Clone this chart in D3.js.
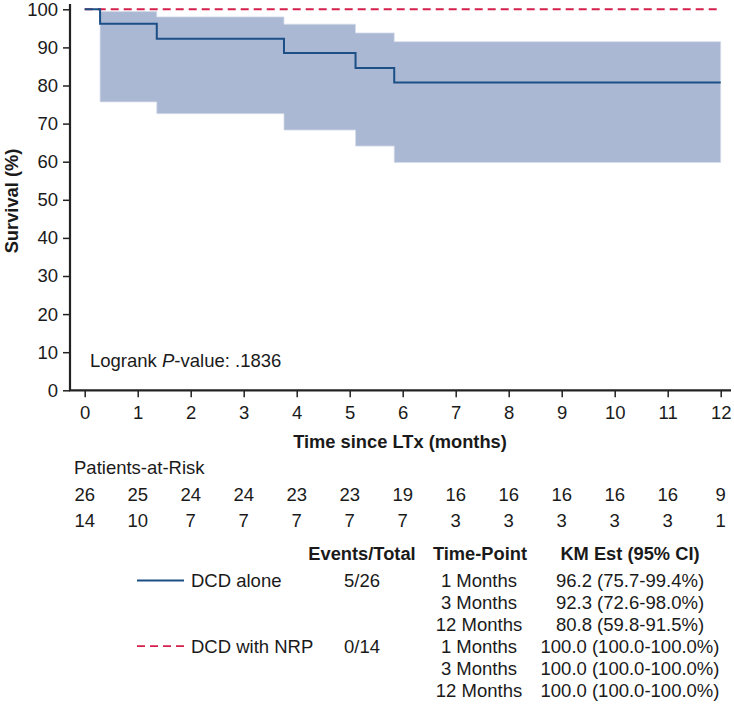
<!DOCTYPE html>
<html><head><meta charset="utf-8">
<script src="https://cdn.jsdelivr.net/npm/d3@7"></script>
<style>body{margin:0;background:#fff}svg{display:block}text{font-family:"Liberation Sans",Arial,Helvetica,sans-serif;fill:#1a1a1a}</style>
</head><body><svg id="c" width="734" height="706"></svg>
<script>
// Data
const stepTimes   = [0, 0.29, 1.36, 3.76, 5.11, 5.84, 12];
const survAlone   = [100, 96.2, 92.3, 88.5, 84.6, 80.8, 80.8];
const ciTimes     = [0.29, 1.36, 3.76, 5.11, 5.84, 12];
const ciLower     = [75.7, 72.6, 68.3, 64.1, 59.8, 59.8];
const ciUpper     = [99.4, 98.0, 96.1, 93.8, 91.5, 91.5];
const nrpTimes    = [0, 12];
const nrpSurv     = [100, 100];
const xTicks      = [0,1,2,3,4,5,6,7,8,9,10,11,12];
const yTicks      = [0,10,20,30,40,50,60,70,80,90,100];
const riskAlone   = [26,25,24,24,23,23,19,16,16,16,16,16,9];
const riskNRP     = [14,10,7,7,7,7,7,3,3,3,3,3,1];
const groups      = ["DCD alone","DCD with NRP"];
const eventsTotal = ["5/26","0/14"];
const timePoints  = ["1 Months","3 Months","12 Months"];
const kmAlone     = ["96.2 (75.7-99.4%)","92.3 (72.6-98.0%)","80.8 (59.8-91.5%)"];
const kmNRP       = ["100.0 (100.0-100.0%)","100.0 (100.0-100.0%)","100.0 (100.0-100.0%)"];

const svg = d3.select("#c");
const x = d3.scaleLinear().domain([0,12]).range([84.7,720.7]);
const y = d3.scaleLinear().domain([0,100]).range([390.3,9.3]);
const blue = "#1b4f86", red = "#d5204c", band = "#aab8d4";
const fs = 18.5, fsb = 18.3;

// CI band
const areaData = ciTimes.map((t,i)=>({t, lo:ciLower[i], hi:ciUpper[i]}));
svg.append("path").datum(areaData)
  .attr("d", d3.area().curve(d3.curveStepAfter).x(d=>x(d.t)).y0(d=>y(d.lo)).y1(d=>y(d.hi)))
  .attr("fill", band).attr("stroke","#d6dcea").attr("stroke-width",0.8);

// NRP dashed
svg.append("path").datum(nrpTimes.map((t,i)=>({t,s:nrpSurv[i]})))
  .attr("d", d3.line().x(d=>x(d.t)).y(d=>y(d.s)))
  .attr("fill","none").attr("stroke",red).attr("stroke-width",2).attr("stroke-dasharray","8,5");

// KM step line
svg.append("path").datum(stepTimes.map((t,i)=>({t,s:survAlone[i]})))
  .attr("d", d3.line().curve(d3.curveStepAfter).x(d=>x(d.t)).y(d=>y(d.s)))
  .attr("fill","none").attr("stroke",blue).attr("stroke-width",2);

// Axes
const yAx = svg.append("g").attr("transform","translate(70,0)")
  .call(d3.axisLeft(y).tickValues(yTicks).tickSize(7).tickPadding(5));
yAx.select(".domain").remove();
svg.append("line").attr("x1",70).attr("x2",70).attr("y1",4).attr("y2",391).attr("stroke","#222").attr("stroke-width",2.2);
const xAx = svg.append("g").attr("transform","translate(0,390.3)")
  .call(d3.axisBottom(x).tickValues(xTicks).tickSize(7).tickPadding(9));
xAx.select(".domain").remove();
svg.append("line").attr("x1",69).attr("x2",731).attr("y1",390.3).attr("y2",390.3).attr("stroke","#222").attr("stroke-width",2.2);
svg.selectAll(".tick line").attr("stroke","#222").attr("stroke-width",1.5);
svg.selectAll(".tick text").attr("font-size",fs).attr("font-family",'"Liberation Sans",Arial,sans-serif').attr("fill","#1a1a1a");

// Axis titles
svg.append("text").attr("transform","translate(18,201) rotate(-90)").attr("text-anchor","middle")
  .attr("font-size",fsb).attr("font-weight","bold").text("Survival (%)");
svg.append("text").attr("x",400).attr("y",447.5).attr("text-anchor","middle")
  .attr("font-size",fsb).attr("font-weight","bold").text("Time since LTx (months)");

// Logrank
const lr = svg.append("text").attr("x",90).attr("y",367).attr("font-size",fs);
lr.append("tspan").text("Logrank ");
lr.append("tspan").attr("font-style","italic").text("P");
lr.append("tspan").text("-value: .1836");

// Risk table
svg.append("text").attr("x",74).attr("y",474).attr("font-size",fs).text("Patients-at-Risk");
[riskAlone, riskNRP].forEach((row,ri)=>{
  svg.append("g").selectAll("text").data(row).join("text")
    .attr("x",(d,i)=>x(xTicks[i])).attr("y",ri===0?500.5:527)
    .attr("text-anchor","middle").attr("font-size",fs).text(d=>d);
});

// Legend/stat table
const hdrY = 560;
[["Events/Total",362],["Time-Point",480],["KM Est (95% CI)",630]].forEach(([t,cx])=>{
  svg.append("text").attr("x",cx).attr("y",hdrY).attr("text-anchor","middle")
    .attr("font-size",fsb).attr("font-weight","bold").text(t);
});
const rowY0 = 587, rowDY = 21.9;
groups.forEach((g,gi)=>{
  const yy = rowY0 + gi*3*rowDY;
  const ly = yy-6.5;
  svg.append("line").attr("x1",137).attr("x2",184).attr("y1",ly).attr("y2",ly)
    .attr("stroke",gi===0?blue:red).attr("stroke-width",1.8)
    .attr("stroke-dasharray",gi===0?null:"8,5");
  svg.append("text").attr("x",191).attr("y",yy).attr("font-size",fs).text(g);
  svg.append("text").attr("x",362).attr("y",yy).attr("text-anchor","middle").attr("font-size",fs).text(eventsTotal[gi]);
  const km = gi===0?kmAlone:kmNRP;
  timePoints.forEach((tp,k)=>{
    const ty = yy + k*rowDY;
    svg.append("text").attr("x",479).attr("y",ty).attr("text-anchor","middle").attr("font-size",fs).text(tp);
    svg.append("text").attr("x",630).attr("y",ty).attr("text-anchor","middle").attr("font-size",fs).text(km[k]);
  });
});
</script></body></html>
